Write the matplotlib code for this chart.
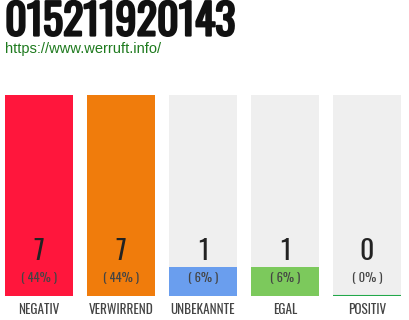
import matplotlib
matplotlib.use("Agg")
import matplotlib.pyplot as plt
import matplotlib.patheffects as pe
from matplotlib import font_manager as fm

# Data
title = "015211920143"
url = "https://www.werruft.info/"
categories = ["NEGATIV", "VERWIRREND", "UNBEKANNTE", "EGAL", "POSITIV"]
counts = [7, 7, 1, 1, 0]
percents = [44, 44, 6, 6, 0]
colors = ["#ff163c", "#f07c0c", "#6a9eee", "#7cc95c", "#22a84a"]

installed = {f.name for f in fm.fontManager.ttflist}


def fonts(*names):
    return [n for n in names if n in installed] + ["DejaVu Sans"]


bold_font = fonts("Oswald", "Liberation Sans Narrow")
light_font = fonts("Oswald Light", "Oswald", "Liberation Sans Narrow")

fig = plt.figure(figsize=(4.1, 3.2), dpi=100)
fig.patch.set_facecolor("white")

fig.text(5 / 410, 1 - 22 / 320, title, family=bold_font, fontweight="bold",
         fontsize=30.5, color="#111111", va="center", ha="left",
         path_effects=[pe.withStroke(linewidth=1.6, foreground="#111111")])
fig.text(5 / 410, 1 - 49 / 320, url, family=["Liberation Sans", "DejaVu Sans"],
         fontsize=10.5, color="#1e7a1e", va="center", ha="left")

bw = 68 / 82
ax = fig.add_axes([5 / 410, 24 / 320, 396 / 410, 201 / 320])
x = range(len(categories))
top = max(counts)
ax.bar(x, [top] * len(categories), width=bw, color="#efefef", zorder=1)
ax.bar(x, counts, width=bw, color=colors, zorder=2)
for i, c in enumerate(counts):
    if c == 0:
        ax.plot([i - bw / 2, i + bw / 2], [0, 0], color=colors[i], lw=1.5,
                solid_capstyle="butt", zorder=3)
ax.set_xlim(-bw / 2, len(categories) - 1 + bw / 2)
ax.set_ylim(0, top)
ax.axis("off")

for i, (c, p) in enumerate(zip(counts, percents)):
    ax.annotate(str(c), (i, 0), xytext=(0, 44), textcoords="offset pixels",
                ha="center", va="center", family=light_font, fontweight="light",
                fontsize=20, color="#222222", zorder=4)
    ax.annotate(f"( {p}% )", (i, 0), xytext=(0, 19), textcoords="offset pixels",
                ha="center", va="center", family=light_font, fontweight="light",
                fontsize=9, color="#444444", zorder=4)
    ax.annotate(categories[i], (i, 0), xytext=(0, -13), textcoords="offset pixels",
                ha="center", va="center", family=light_font, fontweight="light",
                fontsize=9.5, color="#444444", annotation_clip=False)

fig.savefig("out.png", dpi=100)
